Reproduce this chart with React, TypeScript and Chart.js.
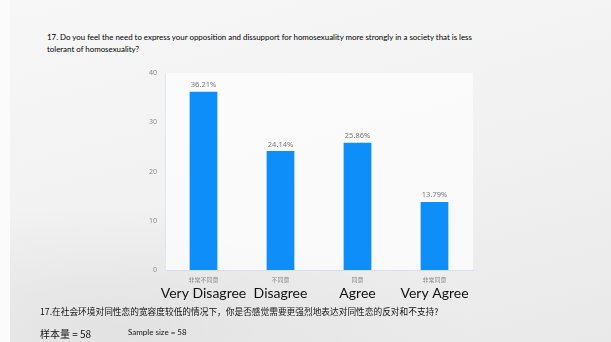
import React, { useEffect, useRef } from "react";
import { Chart, registerables } from "chart.js";

Chart.register(...registerables);

const categoriesZh = ["非常不同意", "不同意", "同意", "非常同意"];
const categoriesEn = ["Very Disagree", "Disagree", "Agree", "Very Agree"];
const values = [36.21, 24.14, 25.86, 13.79];
const yTicks = [0, 10, 20, 30, 40];

const titleLine1 =
  "17. Do you feel the need to express your opposition and dissupport for homosexuality more strongly in a society that is less";
const titleLine2 = "tolerant of homosexuality?";
const questionZh = "17.在社会环境对同性恋的宽容度较低的情况下，你是否感觉需要更强烈地表达对同性恋的反对和不支持?";
const sampleZh = "样本量 = 58";
const sampleEn = "Sample size = 58";

const BAR_COLOR = "#0d8ef8";

const overlayPlugin = {
  id: "overlay",
  beforeDraw(chart: any) {
    const { ctx, chartArea } = chart;
    ctx.save();
    ctx.fillStyle = "rgba(252,252,252,0.85)";
    ctx.fillRect(chartArea.left, chartArea.top, chartArea.right - chartArea.left, chartArea.bottom - chartArea.top);
    ctx.restore();
  },
  afterDatasetsDraw(chart: any) {
    const { ctx } = chart;
    const meta = chart.getDatasetMeta(0);
    const xScale = chart.scales.x;
    ctx.save();
    ctx.textAlign = "center";
    ctx.textBaseline = "bottom";
    ctx.fillStyle = "#777";
    ctx.font = "7.5px 'Noto Sans', sans-serif";
    meta.data.forEach((bar: any, i: number) => {
      ctx.fillText(values[i].toFixed(2) + "%", bar.x, bar.y - 3);
    });
    ctx.fillStyle = "#111";
    ctx.font = "14px Lato, sans-serif";
    ctx.textBaseline = "middle";
    categoriesEn.forEach((t, i) => {
      ctx.fillText(t, xScale.getPixelForValue(i), 293);
    });
    ctx.restore();
  },
};

function BarChart() {
  const ref = useRef<HTMLCanvasElement>(null);
  useEffect(() => {
    if (!ref.current) return;
    const chart = new Chart(ref.current, {
      type: "bar",
      data: {
        labels: categoriesZh,
        datasets: [
          {
            data: values,
            backgroundColor: BAR_COLOR,
            barPercentage: 0.36,
            categoryPercentage: 1,
          },
        ],
      },
      options: {
        animation: false,
        responsive: false,
        layout: { padding: { left: 120, top: 73, right: 138, bottom: 0 } },
        plugins: { legend: { display: false }, tooltip: { enabled: false } },
        scales: {
          x: {
            grid: { display: false, drawTicks: false },
            border: { color: "#dcdcf0", width: 1 },
            ticks: {
              color: "#888",
              font: { size: 6, family: "'Noto Sans CJK SC', sans-serif" },
              padding: 6,
              maxRotation: 0,
            },
            afterFit: (s: any) => {
              s.height = 72;
            },
          },
          y: {
            min: 0,
            max: 40,
            afterBuildTicks: (s: any) => {
              s.ticks = yTicks.map((v) => ({ value: v }));
            },
            grid: { display: false, drawTicks: false },
            border: { color: "#dde6f5", width: 1 },
            ticks: {
              color: "#888",
              font: { size: 7, family: "'Noto Sans', sans-serif" },
              padding: 8,
            },
            afterFit: (s: any) => {
              s.width = 45;
            },
          },
        },
      },
      plugins: [overlayPlugin],
    });
    return () => chart.destroy();
  }, []);
  return <canvas ref={ref} width={611} height={342} style={{ position: "absolute", left: 0, top: 0 }} />;
}

export default function App() {
  return (
    <div
      style={{
        position: "fixed",
        left: 0,
        top: 0,
        width: 611,
        height: 342,
        overflow: "hidden",
        background:
          "radial-gradient(ellipse 500px 180px at 120px 330px, rgba(225,225,225,0.9), rgba(225,225,225,0) 70%), linear-gradient(165deg, #f7f7f7 0%, #f1f1f1 55%, #e9e9e9 100%)",
        fontFamily: "Lato, sans-serif",
      }}
    >
      <div style={{ position: "absolute", left: 0, top: 0, width: 10, height: 342, background: "#fbfbfb" }} />
      <div
        style={{
          position: "absolute",
          left: 47,
          top: 31,
          fontSize: 7.9,
          lineHeight: "12px",
          color: "#000",
          whiteSpace: "nowrap",
          fontFamily: "Lato, sans-serif",
          fontWeight: 400,
        }}
      >
        <div>{titleLine1}</div>
        <div>{titleLine2}</div>
      </div>
      <BarChart />
      <div
        style={{
          position: "absolute",
          left: 40,
          top: 305,
          fontSize: 8.7,
          color: "#111",
          whiteSpace: "nowrap",
          fontFamily: "'Noto Sans CJK SC', sans-serif",
        }}
      >
        {questionZh}
      </div>
      <div
        style={{
          position: "absolute",
          left: 40,
          top: 326,
          fontSize: 10,
          color: "#111",
          whiteSpace: "nowrap",
          fontFamily: "'Noto Sans CJK SC', sans-serif",
        }}
      >
        {sampleZh}
      </div>
      <div
        style={{
          position: "absolute",
          left: 128,
          top: 327,
          fontSize: 8,
          color: "#111",
          whiteSpace: "nowrap",
          fontFamily: "Lato, sans-serif",
        }}
      >
        {sampleEn}
      </div>
    </div>
  );
}
